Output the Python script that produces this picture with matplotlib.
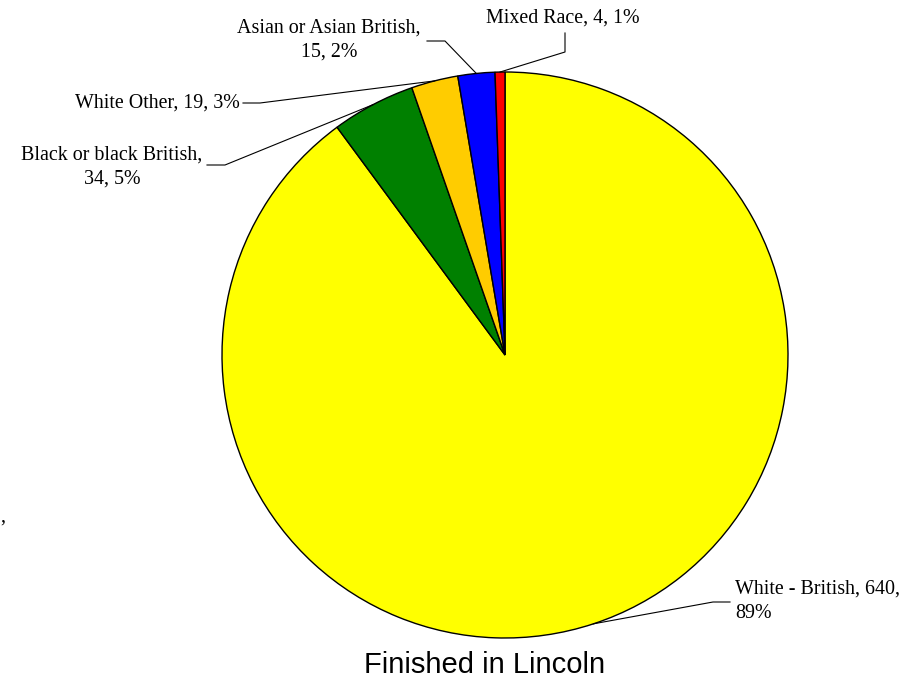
import numpy as np
import matplotlib.pyplot as plt

W, H = 924, 682

categories = ["White - British", "Black or black British", "White Other",
              "Asian or Asian British", "Mixed Race"]
counts = [640, 34, 19, 15, 4]
label_texts = ["White - British, 640,\n89%", "Black or black British,\n34, 5%",
               "White Other, 19, 3%", "Asian or Asian British,\n15, 2%",
               "Mixed Race, 4, 1%"]
colors = ["#FFFF00", "#008000", "#FFCC00", "#0000FF", "#FF0000"]

# label text position (px), alignment, and leader elbow points (px)
label_pos = [(735, 601), (112, 167), (240, 103), (329, 40), (563, 18)]
label_ha = ["left", "center", "right", "center", "center"]
elbows = [[(713, 602), (730, 602)],
          [(225, 165), (207, 165)],
          [(260, 103), (243, 103)],
          [(445, 41), (427, 41)],
          [(565, 52), (565, 33)]]

cx, cy, r = 505, 355, 283


def fy(y):
    return H - y


fig = plt.figure(figsize=(W / 100, H / 100), dpi=100)
ax = fig.add_axes([0, 0, 1, 1])

wedges, _ = ax.pie(counts, colors=colors, startangle=90, counterclock=False,
                   center=(cx, fy(cy)), radius=r,
                   wedgeprops=dict(edgecolor="black", linewidth=1.0))
ax.set_xlim(0, W)
ax.set_ylim(0, H)
ax.set_aspect("equal")
ax.axis("off")

serif = ["Liberation Serif", "DejaVu Serif"]
for w, txt, pos, ha, elb in zip(wedges, label_texts, label_pos, label_ha, elbows):
    mid = np.deg2rad((w.theta1 + w.theta2) / 2)
    ax0 = cx + r * np.cos(mid)
    ay0 = fy(cy) + r * np.sin(mid)
    xs = [ax0] + [p[0] for p in elb]
    ys = [ay0] + [fy(p[1]) for p in elb]
    ax.plot(xs, ys, color="black", linewidth=0.8)
    ax.text(pos[0], fy(pos[1]), txt, ha=ha, va="center", multialignment=ha,
            fontsize=14.4, family=serif, linespacing=1.4)

# stray clipped label fragment at the left edge
ax.text(0, fy(517), ",", ha="left", va="center", fontsize=14.4, family=serif)

ax.text(485, fy(665), "Finished in Lincoln", ha="center", va="center",
        fontsize=21, family=["Liberation Sans", "DejaVu Sans"])

plt.savefig("out.png", dpi=100)
